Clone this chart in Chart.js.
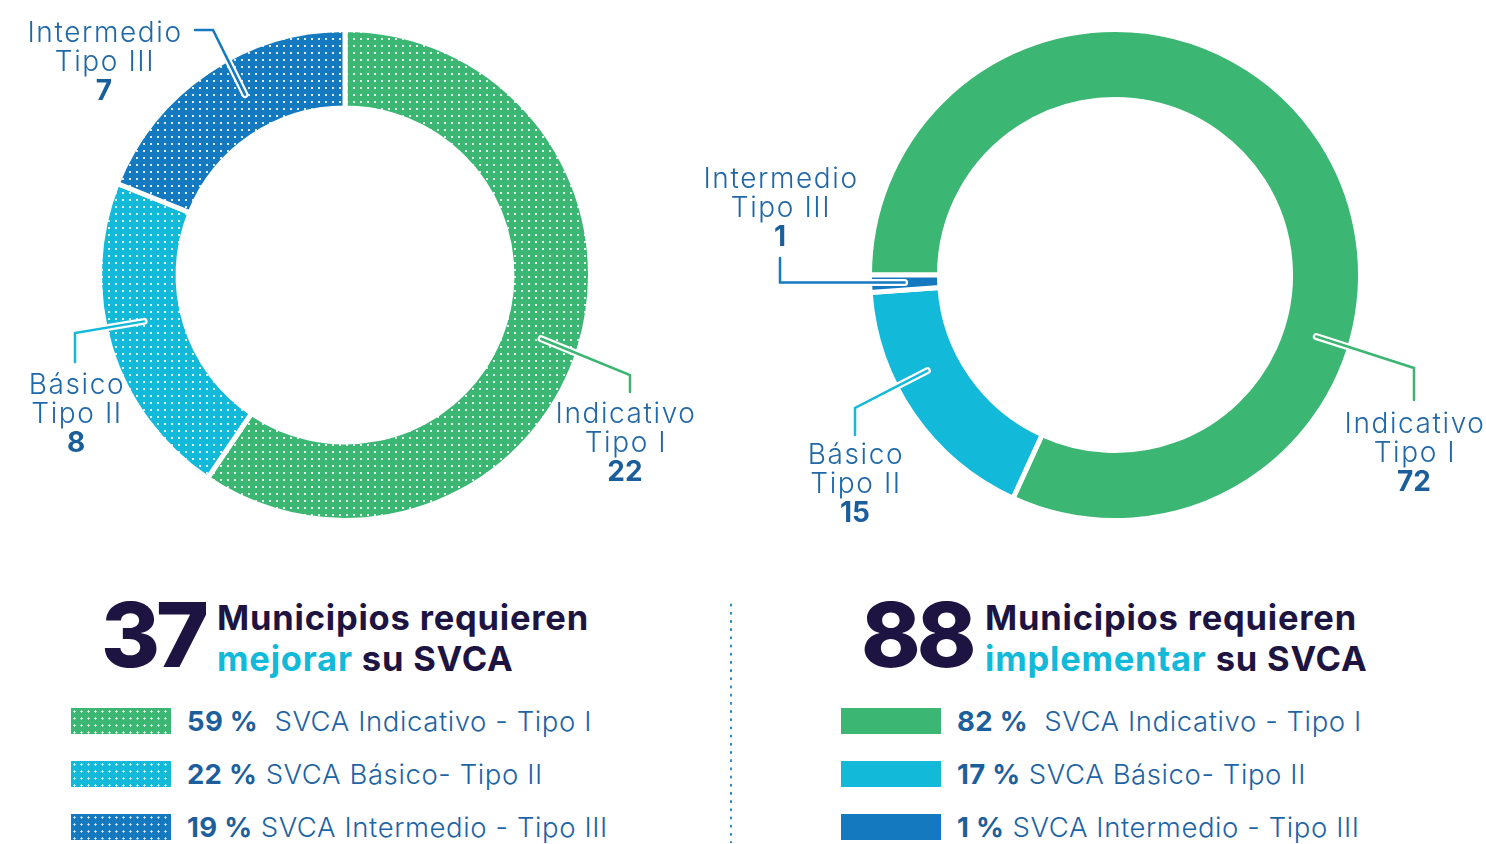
<!DOCTYPE html>
<html>
<head>
<meta charset="utf-8">
<title>SVCA por municipio</title>
<script src="https://cdn.jsdelivr.net/npm/chart.js"></script>
<style>
  html, body { margin: 0; padding: 0; background: #fff; }
  body {
    width: 1486px; height: 844px; position: relative; overflow: hidden;
    font-family: Inter, "Noto Sans", sans-serif;
  }
  canvas { position: absolute; top: 0; }
  #leftChart { left: 0; }
  #rightChart { left: 620px; }
  .big {
    position: absolute; font-weight: 800; color: #1d1442;
    font-size: 90px; line-height: 90px; letter-spacing: -4px;
  }
  .head {
    position: absolute; font-weight: 700; color: #1d1442;
    font-size: 34.5px; line-height: 41px; white-space: nowrap; letter-spacing: 0.8px;
  }
  .head .hl { color: #12b9d9; }
  .row { position: absolute; height: 26px; white-space: nowrap; }
  .swatch { position: absolute; left: 0; top: 0; width: 100px; height: 26px; }
  .dots {
    background-image: radial-gradient(circle, rgba(255,255,255,.85) 0.9px, transparent 1.3px);
    background-size: 7px 7px;
  }
  .txt {
    position: absolute; left: 116px; top: -4px; font-size: 27.5px; line-height: 34px;
    color: #1e64a4; font-weight: 300; letter-spacing: 0.6px;
  }
  .txt b { font-weight: 700; color: #1d5f9d; letter-spacing: 0.3px; }
  .txt .gap { display: inline-block; width: 8px; }
  .sep {
    position: absolute; left: 729px; top: 601px; width: 4px; height: 242px;
    background-image: radial-gradient(circle, #2185c8 1px, transparent 1.4px);
    background-size: 4px 8.2px;
  }
</style>
</head>
<body>
<canvas id="leftChart" width="730" height="540"></canvas>
<canvas id="rightChart" width="866" height="540"></canvas>

<div class="big" id="totalLeft" style="left:101px; top:590px;"></div>
<div class="head" style="left:217px; top:597px;">Municipios requieren<br><span class="hl">mejorar</span> su SVCA</div>
<div class="big" id="totalRight" style="left:861px; top:590px;"></div>
<div class="head" style="left:985px; top:597px;">Municipios requieren<br><span class="hl">implementar</span> su SVCA</div>

<div id="legendLeft"></div>
<div id="legendRight"></div>
<div class="sep"></div>

<script>
const categories = ['Indicativo', 'Básico', 'Intermedio'];
const tipos = ['Tipo I', 'Tipo II', 'Tipo III'];
const mejorarValues = [22, 8, 7];
const implementarValues = [72, 15, 1];
const legendNames = ['SVCA Indicativo - Tipo I', 'SVCA Básico- Tipo II', 'SVCA Intermedio - Tipo III'];
const colors = ['#3bb673', '#12b9d9', '#1479be'];

const labelBlue = '#2068a8';
const numberBlue = '#1b5e9c';

// leader line layout, offsets from the doughnut centre
// angle: degrees clockwise from 12 o'clock (null = middle of the slice)
const leftCallouts = [
  { angle: 108, elbow: [285, 100], end: [285, 117], text: [280, 148] },
  { angle: 257, elbow: [-270, 58], end: [-270, 87], text: [-269, 119] },
  { angle: 331, elbow: [-132, -245], end: [-150, -245], text: [-241, -233] }
];
const rightCallouts = [
  { angle: 107, elbow: [299, 93], end: [299, 125], text: [299, 158] },
  { angle: 243, elbow: [-260, 133], end: [-260, 160], text: [-260, 189] },
  { angle: null, elbow: [-335, 'anchor'], end: [-335, -17], text: [-335, -87] }
];

function dotPattern(color) {
  const c = document.createElement('canvas');
  c.width = 7; c.height = 7;
  const g = c.getContext('2d');
  g.fillStyle = color;
  g.fillRect(0, 0, 7, 7);
  g.fillStyle = 'rgba(255,255,255,0.85)';
  g.fillRect(3, 3, 2, 2);
  return g.createPattern(c, 'repeat');
}

function calloutPlugin(values, callouts) {
  return {
    id: 'callouts',
    afterDraw(chart) {
      const ctx = chart.ctx;
      const arcs = chart.getDatasetMeta(0).data;
      arcs.forEach((arc, i) => {
        const co = callouts[i];
        const cx = arc.x, cy = arc.y;
        const r = (arc.innerRadius + arc.outerRadius) / 2;
        const a = co.angle === null ? (arc.startAngle + arc.endAngle) / 2
                                    : (co.angle - 90) * Math.PI / 180;
        const ax = cx + r * Math.cos(a), ay = cy + r * Math.sin(a);
        const ex = cx + co.elbow[0];
        const ey = co.elbow[1] === 'anchor' ? ay : cy + co.elbow[1];
        const path = () => {
          ctx.beginPath();
          ctx.moveTo(ax, ay);
          ctx.lineTo(ex, ey);
          ctx.lineTo(cx + co.end[0], cy + co.end[1]);
        };
        ctx.save();
        ctx.lineCap = 'round';
        ctx.lineJoin = 'miter';
        path();
        ctx.strokeStyle = '#fff';
        ctx.lineWidth = 7;
        ctx.stroke();
        path();
        ctx.strokeStyle = colors[i];
        ctx.lineWidth = 2.5;
        ctx.stroke();

        const tx = cx + co.text[0], ty = cy + co.text[1];
        ctx.textAlign = 'center';
        ctx.textBaseline = 'alphabetic';
        ctx.letterSpacing = '1.6px';
        ctx.fillStyle = labelBlue;
        ctx.font = '300 28px Inter';
        ctx.fillText(categories[i], tx + 1, ty);
        ctx.fillText(tipos[i], tx + 1, ty + 29);
        ctx.letterSpacing = '0px';
        ctx.fillStyle = numberBlue;
        ctx.font = '700 28px Inter';
        ctx.fillText(String(values[i]), tx, ty + 58);
        ctx.restore();
      });
    }
  };
}

function makeChart(id, values, bg, rotation, cutout, padding, callouts) {
  return new Chart(document.getElementById(id), {
    type: 'doughnut',
    data: {
      labels: categories,
      datasets: [{
        data: values,
        backgroundColor: bg,
        borderColor: '#fff',
        borderWidth: 5
      }]
    },
    options: {
      responsive: false,
      animation: false,
      events: [],
      rotation: rotation,
      cutout: cutout,
      layout: { padding: padding },
      plugins: { legend: { display: false }, tooltip: { enabled: false } }
    },
    plugins: [calloutPlugin(values, callouts)]
  });
}

makeChart('leftChart', mejorarValues, colors.map(dotPattern), 0, '68%',
  { left: 97, right: 137, top: 27, bottom: 17 }, leftCallouts);
makeChart('rightChart', implementarValues, colors, 270, '71.5%',
  { left: 247, right: 123, top: 27, bottom: 17 }, rightCallouts);

function sum(a) { return a.reduce((s, v) => s + v, 0); }
document.getElementById('totalLeft').textContent = sum(mejorarValues);
document.getElementById('totalRight').textContent = sum(implementarValues);

function buildLegend(el, values, x, dotted) {
  const total = sum(values);
  values.forEach((v, i) => {
    const pct = Math.round(v / total * 100);
    const row = document.createElement('div');
    row.className = 'row';
    row.style.left = x + 'px';
    row.style.top = (708 + i * 53) + 'px';
    const sw = document.createElement('div');
    sw.className = 'swatch' + (dotted ? ' dots' : '');
    sw.style.backgroundColor = colors[i];
    const t = document.createElement('div');
    t.className = 'txt';
    t.innerHTML = '<b>' + pct + ' %</b> ' + (i === 0 ? '<span class="gap"></span>' : '') + legendNames[i];
    row.appendChild(sw);
    row.appendChild(t);
    el.appendChild(row);
  });
}
buildLegend(document.getElementById('legendLeft'), mejorarValues, 71, true);
buildLegend(document.getElementById('legendRight'), implementarValues, 841, false);
</script>
</body>
</html>
